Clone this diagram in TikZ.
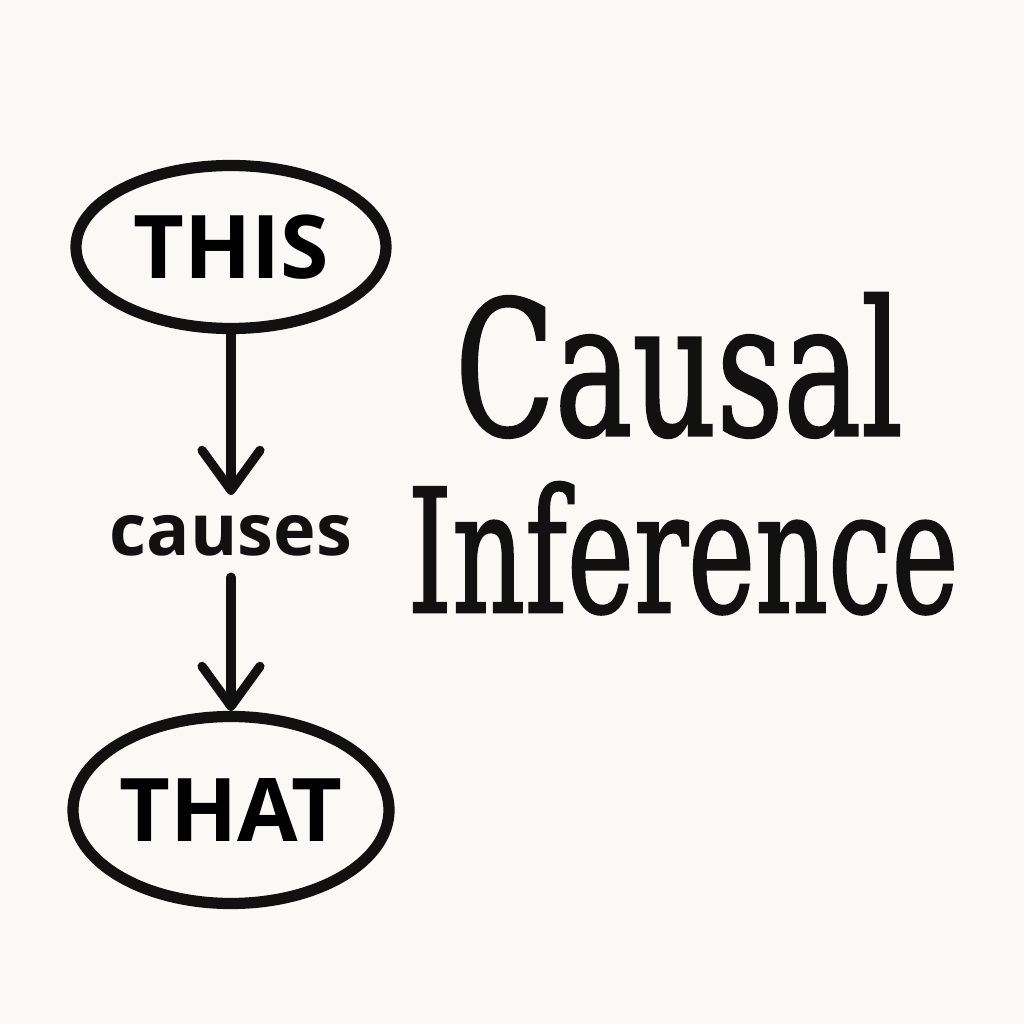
\documentclass[tikz,border=0pt]{standalone}
\usepackage{fontspec}
\usepackage{graphicx}
\setmainfont{DejaVu Serif}
\newfontfamily\titlefont[FakeBold=1.6]{DejaVu Serif}
\newfontfamily\handfont{Open Sans}
\usetikzlibrary{arrows.meta,shapes.geometric}
\definecolor{paper}{HTML}{FAF9F5}
\definecolor{ink}{HTML}{111111}

\begin{document}
\begin{tikzpicture}[
  blob/.style={draw=ink,ellipse,line width=3.2pt,inner sep=0pt,minimum width=3.1cm,
    font=\handfont\bfseries\fontsize{25}{25}\selectfont},
  link/.style={draw=ink,line width=2.6pt,line cap=round,
    -{Straight Barb[length=4mm,width=5.8mm,line cap=round,line join=round]}},
  title/.style={anchor=base,inner sep=0pt,text=ink,font=\titlefont}
]
\fill[paper] (0,0) rectangle (10.24,10.24);
% cause and effect
\node[blob,minimum height=1.63cm] (this) at (2.31,7.77) {THIS};
\node[inner sep=0.2cm,text=ink,font=\handfont\bfseries\fontsize{20.5}{20.5}\selectfont] (causes) at (2.31,4.88) {causes};
\node[blob,minimum height=1.87cm,minimum width=3.06cm] (that) at (2.31,2.14) {THAT};
\draw[link] (this) -- (causes);
\draw[link] (causes) -- (that);
% title
\node[title] (causal) at (6.79,5.89) {\resizebox{4.48cm}{1.42cm}{Causal}};
\node[title] (inference) at (6.83,4.12) {\resizebox{5.51cm}{1.30cm}{Inference}};
\end{tikzpicture}
\end{document}
